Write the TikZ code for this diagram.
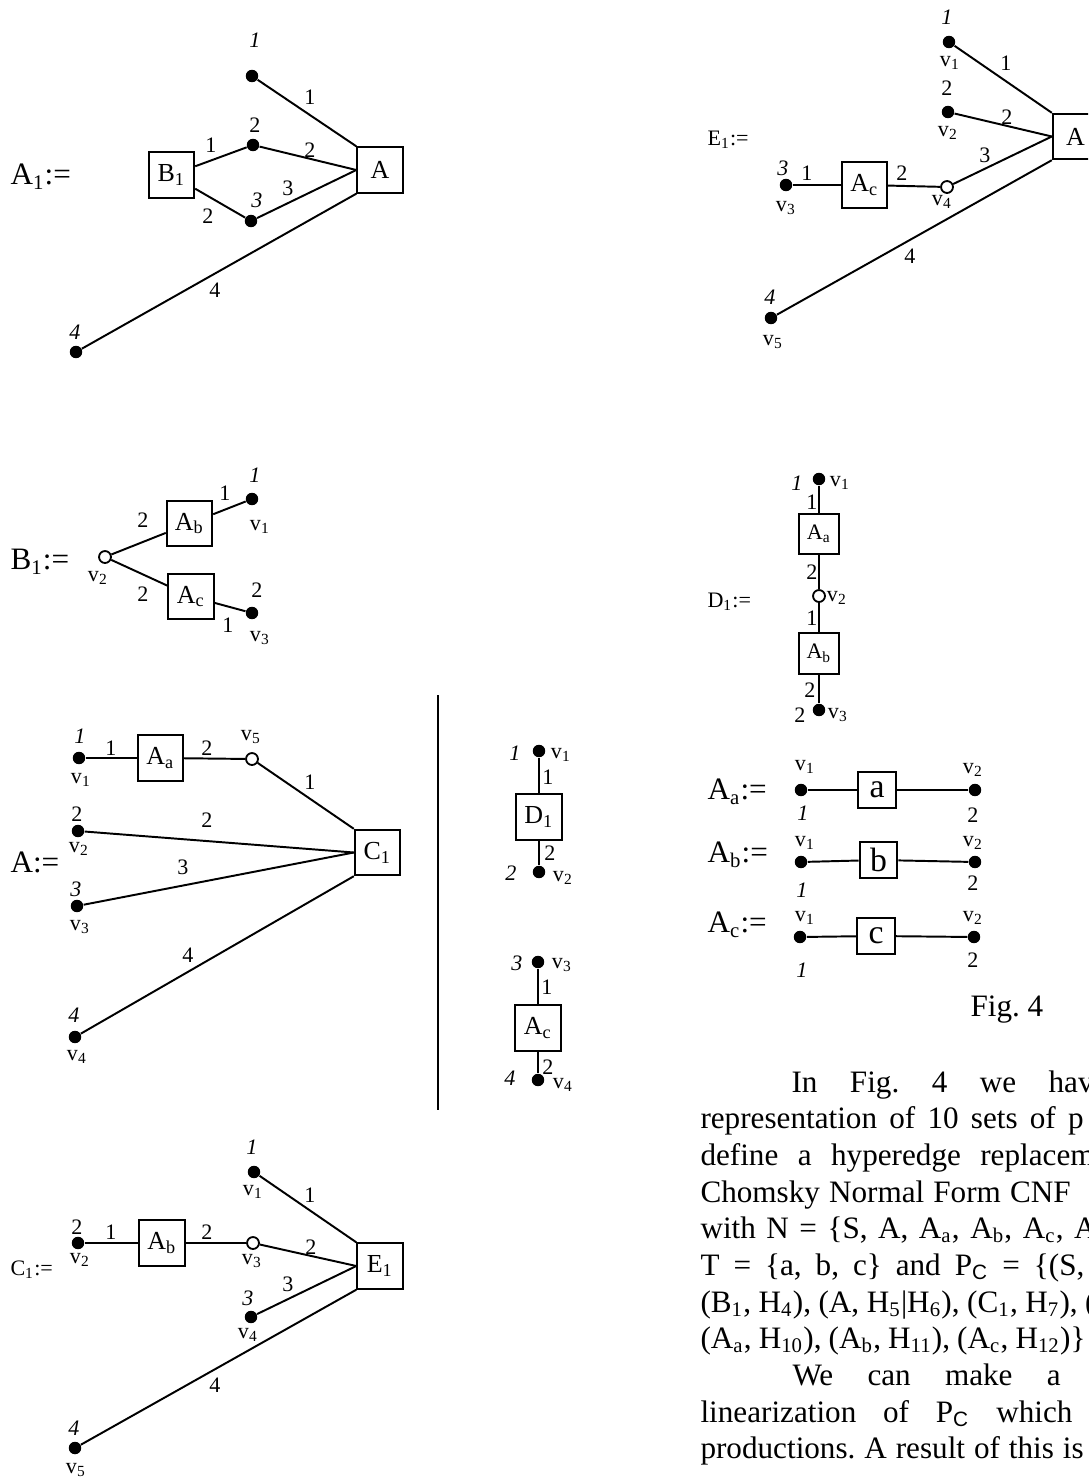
\documentclass[tikz,border=0pt]{standalone}
\usepackage{fontspec}
\setmainfont{Liberation Serif}
\newfontfamily\arialfont{Liberation Sans}
\usetikzlibrary{positioning}
\frenchspacing

\newcommand{\sub}[1]{\textsubscript{#1}}

\tikzset{
  dot/.style={circle, fill=black, inner sep=0pt, minimum size=4.8pt},
  odot/.style={circle, draw=black, fill=white, line width=0.7pt, inner sep=0pt, minimum size=4.6pt},
  hbox/.style={draw, line width=0.75pt, inner sep=0pt, minimum size=17.5pt, font=\fontsize{10}{12}\selectfont},
  sbox/.style={hbox, minimum size=15.6pt, font=\fontsize{8.5}{10}\selectfont},
  tbox/.style={hbox, minimum width=14.6pt, minimum height=14.2pt, font=\fontsize{13}{15}\selectfont},
  lbl/.style={inner sep=0pt, font=\fontsize{8.5}{10}\selectfont},
  port/.style={inner sep=0pt, font=\fontsize{8.5}{10}\selectfont\itshape},
  title/.style={anchor=west, inner sep=0pt, font=\fontsize{12}{14}\selectfont},
  stitle/.style={title, font=\fontsize{8.5}{10}\selectfont},
  wire/.style={line width=0.75pt},
  txt/.style={anchor=base west, inner sep=0pt, font=\fontsize{12}{14}\selectfont}
}

\begin{document}
\begin{tikzpicture}[x=0.385pt, y=-0.385pt]
    \useasboundingbox (0,0) rectangle (1088,1479);
    \clip (0,0) rectangle (1088,1479);

    % A1 := 
    \node[title] (tA1) at (10,177) {A\sub{1}:=};
    \node[hbox] (B1) at (171.5,175) {B\sub{1}};
    \node[hbox] (A) at (380,170) {A};
    \node[dot] (a1v1) at (252,76) {};
    \node[dot] (a1v2) at (253,145) {};
    \node[dot] (a1v3) at (251,221) {};
    \node[dot] (a1v4) at (76,352) {};
    \node[port] (a1p1) at (255,40) {1};
    \node[lbl] (a1p2) at (255,125) {2};
    \node[port] (a1p3) at (257,200) {3};
    \node[port] (a1p4) at (75,332) {4};
    \draw[wire] (B1) -- (a1v2);
    \draw[wire] (B1) -- (a1v3);
    \draw[wire] (a1v1) -- (A.north west);
    \draw[wire] (a1v2) -- (A.west);
    \draw[wire] (a1v3) -- (A.west);
    \draw[wire] (a1v4) -- (A.south west);
    \node[lbl] (a1e1) at (211,145) {1};
    \node[lbl] (a1e2) at (208,216) {2};
    \node[lbl] (a1e3) at (310,97) {1};
    \node[lbl] (a1e4) at (310,150) {2};
    \node[lbl] (a1e5) at (288,188) {3};
    \node[lbl] (a1e6) at (215,290) {4};

    % B1 :=
    \node[title] (tB1) at (10,562) {B\sub{1}:=};
    \node[odot] (b1v2) at (105,557) {};
    \node[hbox] (b1Ab) at (189.5,523.5) {A\sub{b}};
    \node[hbox] (b1Ac) at (191,596.5) {A\sub{c}};
    \node[dot] (b1v1) at (252,499) {};
    \node[dot] (b1v3) at (252,613) {};
    \node[lbl] (b1n2) at (98,578) {v\sub{2}};
    \node[lbl] (b1n1) at (260,527) {v\sub{1}};
    \node[lbl] (b1n3) at (260,638) {v\sub{3}};
    \node[port] (b1p1) at (255,475) {1};
    \node[lbl] (b1p2) at (257,590) {2};
    \draw[wire] (b1v2) -- (b1Ab);
    \draw[wire] (b1v2) -- (b1Ac);
    \draw[wire] (b1Ab) -- (b1v1);
    \draw[wire] (b1Ac) -- (b1v3);
    \node[lbl] (b1e1) at (143,520) {2};
    \node[lbl] (b1e2) at (143,594) {2};
    \node[lbl] (b1e3) at (225,493) {1};
    \node[lbl] (b1e4) at (228,625) {1};

    % A :=
    \node[title] (tA) at (10,862) {A:=};
    \node[dot] (av1) at (79,758) {};
    \node[hbox] (aAa) at (160.5,758) {A\sub{a}};
    \node[odot] (av5) at (252,759) {};
    \node[dot] (av2) at (78,831) {};
    \node[dot] (av3) at (77,906) {};
    \node[dot] (av4) at (75,1037) {};
    \node[hbox] (C1) at (377.5,852.5) {C\sub{1}};
    \node[port] (ap1) at (80,736) {1};
    \node[lbl] (ap2) at (77,814) {2};
    \node[port] (ap3) at (76,889) {3};
    \node[port] (ap4) at (74,1015) {4};
    \node[lbl] (an1) at (81,780) {v\sub{1}};
    \node[lbl] (an2) at (79,849) {v\sub{2}};
    \node[lbl] (an3) at (80,927) {v\sub{3}};
    \node[lbl] (an4) at (77,1057) {v\sub{4}};
    \node[lbl] (an5) at (251,737) {v\sub{5}};
    \draw[wire] (av1) -- (aAa);
    \draw[wire] (aAa) -- (av5);
    \draw[wire] (av5) -- (C1.north west);
    \draw[wire] (av2) -- (C1.west);
    \draw[wire] (av3) -- (C1.west);
    \draw[wire] (av4) -- (C1.south west);
    \node[lbl] (ae1) at (111,748) {1};
    \node[lbl] (ae2) at (207,748) {2};
    \node[lbl] (ae3) at (310,782) {1};
    \node[lbl] (ae4) at (207,820) {2};
    \node[lbl] (ae5) at (183,867) {3};
    \node[lbl] (ae6) at (188,955) {4};

    % separator
    \draw[wire] (438,695) -- (438,1110);

    % A | A_c alternatives
    \node[dot] (dv1) at (539,751) {};
    \node[hbox] (D1) at (539,817) {D\sub{1}};
    \node[dot] (dv2) at (539,872) {};
    \node[port] (dp1) at (515,753) {1};
    \node[port] (dp2) at (511,873) {2};
    \node[lbl] (dn1) at (561,755) {v\sub{1}};
    \node[lbl] (dn2) at (563,878) {v\sub{2}};
    \draw[wire] (dv1) -- (D1);
    \draw[wire] (D1) -- (dv2);
    \node[lbl] (de1) at (548,777) {1};
    \node[lbl] (de2) at (550,853) {2};

    \node[dot] (cv3) at (538,962) {};
    \node[hbox] (cAc) at (538,1028) {A\sub{c}};
    \node[dot] (cv4) at (538,1080) {};
    \node[port] (cp3) at (517,963) {3};
    \node[port] (cp4) at (510,1078) {4};
    \node[lbl] (cn3) at (562,965) {v\sub{3}};
    \node[lbl] (cn4) at (563,1085) {v\sub{4}};
    \draw[wire] (cv3) -- (cAc);
    \draw[wire] (cAc) -- (cv4);
    \node[lbl] (ce1) at (547,987) {1};
    \node[lbl] (ce2) at (548,1067) {2};

    % C1 :=
    \node[stitle] (tC1) at (10,1270) {C\sub{1}:=};
    \node[dot] (c1v1) at (254,1172) {};
    \node[dot] (c1v2) at (78,1243) {};
    \node[hbox] (c1Ab) at (162,1243) {A\sub{b}};
    \node[odot] (c1v3) at (253,1243) {};
    \node[dot] (c1v4) at (251,1317) {};
    \node[dot] (c1v5) at (75,1448) {};
    \node[hbox] (E1) at (380,1266) {E\sub{1}};
    \node[port] (c1p1) at (252,1147) {1};
    \node[lbl] (c1p2) at (77,1227) {2};
    \node[port] (c1p3) at (248,1298) {3};
    \node[port] (c1p4) at (74,1428) {4};
    \node[lbl] (c1n1) at (253,1192) {v\sub{1}};
    \node[lbl] (c1n2) at (80,1260) {v\sub{2}};
    \node[lbl] (c1n3) at (252,1261) {v\sub{3}};
    \node[lbl] (c1n4) at (248,1335) {v\sub{4}};
    \node[lbl] (c1n5) at (76,1470) {v\sub{5}};
    \draw[wire] (c1v2) -- (c1Ab);
    \draw[wire] (c1Ab) -- (c1v3);
    \draw[wire] (c1v1) -- (E1.north west);
    \draw[wire] (c1v3) -- (E1.west);
    \draw[wire] (c1v4) -- (E1.west);
    \draw[wire] (c1v5) -- (E1.south west);
    \node[lbl] (c1e1) at (111,1232) {1};
    \node[lbl] (c1e2) at (207,1232) {2};
    \node[lbl] (c1e3) at (310,1195) {1};
    \node[lbl] (c1e4) at (311,1247) {2};
    \node[lbl] (c1e5) at (288,1284) {3};
    \node[lbl] (c1e6) at (215,1385) {4};

    % E1 :=
    \node[stitle] (tE1) at (707,140) {E\sub{1}:=};
    \node[dot] (e1v1) at (949,42) {};
    \node[dot] (e1v2) at (948,112) {};
    \node[dot] (e1v3) at (786,185) {};
    \node[hbox] (e1Ac) at (864.5,185) {A\sub{c}};
    \node[odot] (e1v4) at (947,187) {};
    \node[dot] (e1v5) at (771,318) {};
    \node[hbox] (e1A) at (1075.5,136.5) {A};
    \node[port] (e1p1) at (947,17) {1};
    \node[lbl] (e1p2) at (947,88) {2};
    \node[port] (e1p3) at (783,168) {3};
    \node[port] (e1p4) at (770,297) {4};
    \node[lbl] (e1n1) at (950,63) {v\sub{1}};
    \node[lbl] (e1n2) at (948,133) {v\sub{2}};
    \node[lbl] (e1n3) at (786,208) {v\sub{3}};
    \node[lbl] (e1n4) at (942,202) {v\sub{4}};
    \node[lbl] (e1n5) at (773,342) {v\sub{5}};
    \draw[wire] (e1v3) -- (e1Ac);
    \draw[wire] (e1Ac) -- (e1v4);
    \draw[wire] (e1v1) -- (e1A.north west);
    \draw[wire] (e1v2) -- (e1A.west);
    \draw[wire] (e1v4) -- (e1A.west);
    \draw[wire] (e1v5) -- (e1A.south west);
    \node[lbl] (e1e1) at (807,173) {1};
    \node[lbl] (e1e2) at (902,173) {2};
    \node[lbl] (e1e3) at (1006,63) {1};
    \node[lbl] (e1e4) at (1007,117) {2};
    \node[lbl] (e1e5) at (985,155) {3};
    \node[lbl] (e1e6) at (910,256) {4};

    % D1 :=
    \node[stitle] (tD1) at (707,602) {D\sub{1}:=};
    \node[dot] (d1v1) at (819,479) {};
    \node[sbox] (d1Aa) at (819,534) {A\sub{a}};
    \node[odot] (d1v2) at (819,596) {};
    \node[sbox] (d1Ab) at (819,653.5) {A\sub{b}};
    \node[dot] (d1v3) at (819,710) {};
    \node[port] (d1p1) at (797,483) {1};
    \node[lbl] (d1p2) at (800,715) {2};
    \node[lbl] (d1n1) at (840,483) {v\sub{1}};
    \node[lbl] (d1n2) at (837,598) {v\sub{2}};
    \node[lbl] (d1n3) at (838,715) {v\sub{3}};
    \draw[wire] (d1v1) -- (d1Aa);
    \draw[wire] (d1Aa) -- (d1v2);
    \draw[wire] (d1v2) -- (d1Ab);
    \draw[wire] (d1Ab) -- (d1v3);
    \node[lbl] (d1e1) at (812,502) {1};
    \node[lbl] (d1e2) at (812,572) {2};
    \node[lbl] (d1e3) at (812,618) {1};
    \node[lbl] (d1e4) at (810,690) {2};

    % terminal rules
    \node[title] (tAa) at (707,792) {A\sub{a}:=};
    \node[dot] (tav1) at (801,790) {};
    \node[tbox] (ta) at (877,790) {a};
    \node[dot] (tav2) at (975,790) {};
    \node[lbl] (tan1) at (805,767) {v\sub{1}};
    \node[lbl] (tan2) at (973,770) {v\sub{2}};
    \node[port] (tap1) at (803,813) {1};
    \node[lbl] (tap2) at (973,815) {2};
    \draw[wire] (tav1) -- (ta);
    \draw[wire] (ta) -- (tav2);

    \node[title] (tAb) at (707,855) {A\sub{b}:=};
    \node[dot] (tbv1) at (801,862) {};
    \node[tbox] (tb) at (878.5,860) {b};
    \node[dot] (tbv2) at (975,862) {};
    \node[lbl] (tbn1) at (805,843) {v\sub{1}};
    \node[lbl] (tbn2) at (973,843) {v\sub{2}};
    \node[port] (tbp1) at (802,890) {1};
    \node[lbl] (tbp2) at (973,883) {2};
    \draw[wire] (tbv1) -- (tb);
    \draw[wire] (tb) -- (tbv2);

    \node[title] (tAc) at (707,925) {A\sub{c}:=};
    \node[dot] (tcv1) at (800,937) {};
    \node[tbox] (tc) at (876,936) {c};
    \node[dot] (tcv2) at (974,937) {};
    \node[lbl] (tcn1) at (805,918) {v\sub{1}};
    \node[lbl] (tcn2) at (973,918) {v\sub{2}};
    \node[port] (tcp1) at (802,970) {1};
    \node[lbl] (tcp2) at (973,960) {2};
    \draw[wire] (tcv1) -- (tc);
    \draw[wire] (tc) -- (tcv2);

    \node[txt] (fig) at (970,1016) {Fig. 4};

    % running text
    \node[txt] (t1) at (791,1092) {\makebox[116.3pt][s]{In Fig. 4 we hav}};
    \node[txt] (t2) at (700,1128) {\makebox[147.5pt][s]{representation of 10 sets of p}};
    \node[txt] (t3) at (700,1165) {\makebox[151.7pt][s]{define a hyperedge replacem}};
    \node[txt] (t4) at (700,1202) {\makebox[142.5pt][s]{Chomsky Normal Form CNF}};
    \node[txt] (t5) at (700,1238) {\makebox[152.5pt][s]{with N = \{S, A, A\sub{a}, A\sub{b}, A\sub{c}, A}};
    \node[txt] (t6) at (700,1275) {\makebox[147.8pt][s]{T = \{a, b, c\} and P\sub{\arialfont C} = \{(S,}};
    \node[txt] (t7) at (700,1312) {\makebox[152.1pt][s]{(B\sub{1}, H\sub{4}), (A, H\sub{5}|H\sub{6}), (C\sub{1}, H\sub{7}), (}};
    \node[txt] (t8) at (700,1348) {\makebox[148.2pt][s]{(A\sub{a}, H\sub{10}), (A\sub{b}, H\sub{11}), (A\sub{c}, H\sub{12})\}}};
    \node[txt] (t9) at (792,1385) {\makebox[103.2pt][s]{We can make a}};
    \node[txt] (t10) at (700,1422) {\makebox[143.2pt][s]{linearization of P\sub{\arialfont C} which}};
    \node[txt] (t11) at (700,1458) {\makebox[147.5pt][s]{productions. A result of this is}};
\end{tikzpicture}
\end{document}
